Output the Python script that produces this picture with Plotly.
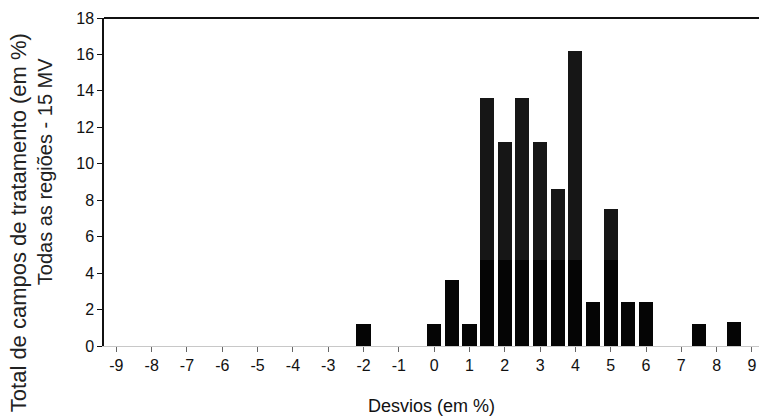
import plotly.graph_objects as go

# Deviation classes (%)
desvios = [-2, 0, 0.5, 1, 1.5, 2, 2.5, 3, 3.5, 4, 4.5, 5, 5.5, 6, 7.5, 8.5]
# lower (dark) segment of each bar, % of fields
parte_inferior = [1.2, 1.2, 3.6, 1.2, 4.7, 4.7, 4.7, 4.7, 4.7, 4.7, 2.4, 4.7, 2.4, 2.4, 1.2, 1.3]
# upper segment stacked on top, % of fields
parte_superior = [0, 0, 0, 0, 8.9, 6.5, 8.9, 6.5, 3.9, 11.5, 0, 2.8, 0, 0, 0, 0]

x_ticks = list(range(-9, 10))
y_ticks = list(range(0, 19, 2))

fig = go.Figure()
fig.add_trace(go.Bar(x=desvios, y=parte_inferior, width=0.4,
                     marker=dict(color="#050505", line=dict(width=0)), showlegend=False))
fig.add_trace(go.Bar(x=desvios, y=parte_superior, width=0.4,
                     marker=dict(color="#161616", line=dict(width=0)), showlegend=False))

fig.update_layout(
    barmode="stack",
    width=759, height=420,
    margin=dict(l=104, r=0, t=18, b=74),
    paper_bgcolor="white", plot_bgcolor="white",
    font=dict(family="Liberation Sans, Arial, sans-serif", color="#111"),
    xaxis=dict(range=[-9.35, 9.2], tickmode="array", tickvals=x_ticks,
               ticktext=[str(v) for v in x_ticks],
               ticks="outside", ticklen=5, tickcolor="#666", tickwidth=1,
               showline=True, linecolor="#c8c8c8", linewidth=1,
               showgrid=False, zeroline=False,
               tickfont=dict(size=16, color="#111"),
               title=dict(text="Desvios (em %)", font=dict(size=18, color="#111"), standoff=26)),
    yaxis=dict(range=[0, 18], tickmode="array", tickvals=y_ticks,
               ticktext=[str(v) for v in y_ticks],
               ticks="outside", ticklen=5, tickcolor="#111", tickwidth=1,
               showline=True, linecolor="#111", linewidth=1.5,
               showgrid=False, zeroline=False,
               tickfont=dict(size=16, color="#111")),
    shapes=[dict(type="line", xref="paper", yref="paper", x0=0, x1=1, y0=1, y1=1,
                 line=dict(color="#111", width=2))],
    annotations=[
        dict(text="Total de campos de tratamento (em %)", xref="paper", yref="paper",
             x=-0.131, y=0.375, xanchor="center", yanchor="middle", textangle=-90,
             showarrow=False, font=dict(size=22, color="#222")),
        dict(text="Todas as regiões - 15 MV", xref="paper", yref="paper",
             x=-0.090, y=0.53, xanchor="center", yanchor="middle", textangle=-90,
             showarrow=False, font=dict(size=20, color="#222")),
    ],
)

fig.write_html("out.html")
